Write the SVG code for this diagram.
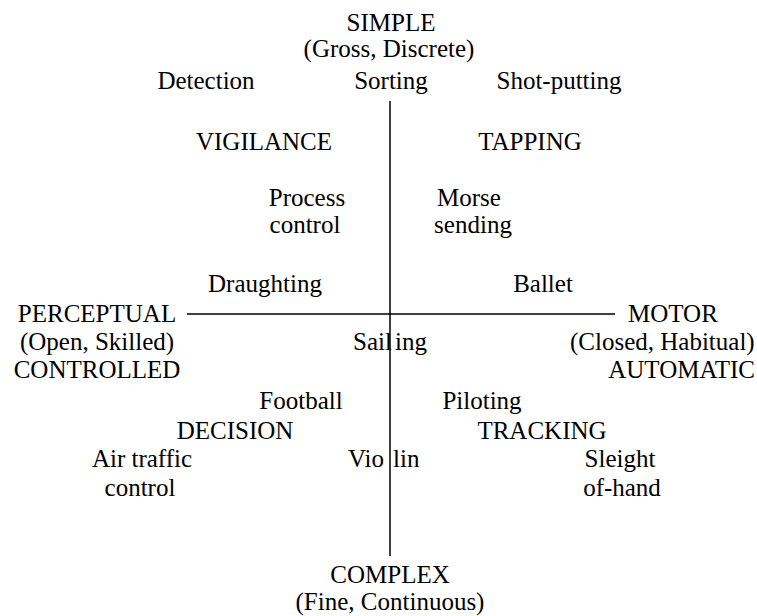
<svg xmlns="http://www.w3.org/2000/svg" width="757" height="616" viewBox="0 0 757 616">
  <style>
    text { font-family: "Liberation Serif", "Times New Roman", serif; font-size: 25px; fill: #000; }
    .c { text-anchor: middle; }
    .e { text-anchor: end; }
    .axis { stroke: #000; stroke-width: 1.5; fill: none; }
  </style>
  <rect width="757" height="616" fill="#fff"/>

  <!-- axes -->
  <g id="axes">
    <line class="axis" x1="390" y1="101" x2="390" y2="556"/>
    <line class="axis" x1="187" y1="314" x2="615" y2="314"/>
  </g>

  <!-- axis poles -->
  <g id="simple">
    <text class="c" x="391" y="31">SIMPLE</text>
    <text class="c" x="389" y="57">(Gross, Discrete)</text>
  </g>
  <g id="complex">
    <text class="c" x="390" y="583">COMPLEX</text>
    <text class="c" x="390" y="610">(Fine, Continuous)</text>
  </g>
  <g id="perceptual">
    <text class="c" x="97" y="322">PERCEPTUAL</text>
    <text class="c" x="97" y="350">(Open, Skilled)</text>
    <text class="c" x="97" y="378">CONTROLLED</text>
  </g>
  <g id="motor">
    <text x="628" y="322">MOTOR</text>
    <text x="570" y="350">(Closed, Habitual)</text>
    <text class="e" x="755" y="378">AUTOMATIC</text>
  </g>

  <!-- quadrant categories -->
  <g id="vigilance"><text class="c" x="264" y="150">VIGILANCE</text></g>
  <g id="tapping"><text class="c" x="530" y="150">TAPPING</text></g>
  <g id="decision"><text class="c" x="235" y="439">DECISION</text></g>
  <g id="tracking"><text class="c" x="542" y="439">TRACKING</text></g>

  <!-- example tasks -->
  <g id="detection"><text class="c" x="206" y="89">Detection</text></g>
  <g id="sorting"><text class="c" x="391" y="89">Sorting</text></g>
  <g id="shot-putting"><text class="c" x="559" y="89">Shot-putting</text></g>
  <g id="process-control">
    <text class="c" x="307" y="206">Process</text>
    <text class="c" x="305" y="233">control</text>
  </g>
  <g id="morse-sending">
    <text class="c" x="469" y="206">Morse</text>
    <text class="c" x="473" y="233">sending</text>
  </g>
  <g id="draughting"><text class="c" x="265" y="292">Draughting</text></g>
  <g id="ballet"><text class="c" x="543" y="292">Ballet</text></g>
  <g id="sailing"><text y="350"><tspan x="353">Sail</tspan><tspan x="395">ing</tspan></text></g>
  <g id="football"><text class="c" x="301" y="409">Football</text></g>
  <g id="piloting"><text class="c" x="482" y="409">Piloting</text></g>
  <g id="air-traffic-control">
    <text class="c" x="142" y="467">Air traffic</text>
    <text class="c" x="140" y="496">control</text>
  </g>
  <g id="violin"><text y="467"><tspan x="348">Vio</tspan><tspan x="393">lin</tspan></text></g>
  <g id="sleight-of-hand">
    <text class="c" x="620" y="467">Sleight</text>
    <text class="c" x="622" y="496">of-hand</text>
  </g>
</svg>
